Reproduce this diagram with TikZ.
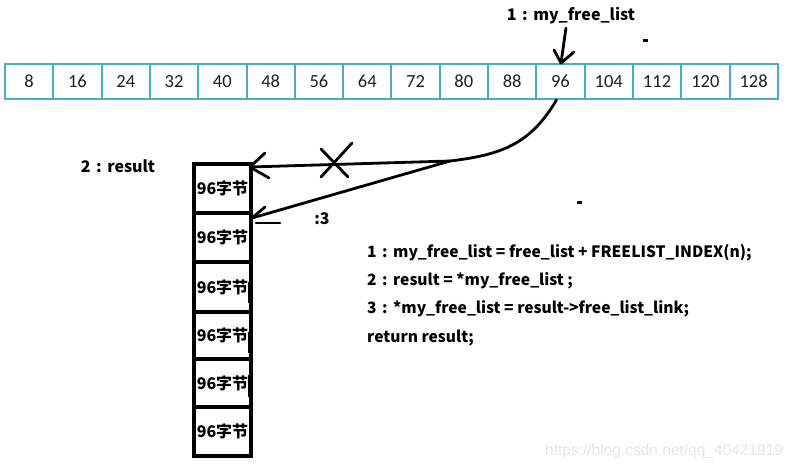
\documentclass[tikz,border=0pt]{standalone}
\usepackage{fontspec}
\setmainfont{Carlito}
\newfontfamily\cjk{Noto Sans CJK SC}
\newfontfamily\wmfont{Liberation Sans}
\definecolor{cellblue}{HTML}{4BACC6}
\newcommand\cln{\hspace{5.5pt}:\hspace{5.5pt}}
\begin{document}
\begin{tikzpicture}[x=1pt,y=-1pt,
  cell/.style={draw=cellblue, line width=2pt, minimum width=48.3pt, minimum height=35pt, inner sep=0pt, font=\fontsize{18.5}{18.5}\selectfont, text=black!88},
  blk/.style={draw, line width=4pt, minimum width=57pt, inner sep=0pt, font=\cjk\bfseries\fontsize{16}{16}\selectfont},
  lbl/.style={font=\cjk\bfseries\fontsize{16}{16}\selectfont, inner sep=0pt},
  code/.style={font=\cjk\bfseries\fontsize{15.6}{15.6}\selectfont, inner sep=0pt, anchor=base west},
  pen/.style={line width=2.8pt, line cap=round},
  cur/.style={line width=1pt},
]
\useasboundingbox (0,0) rectangle (798,476);
% array of size classes
\foreach \v [count=\i] in {8,16,24,32,40,48,56,64,72,80,88,96,104,112,120,128}
  \node[cell] (c\i) at ({5+48.3*(\i-0.5)},81.5) {\v};
% blocks
\foreach \n/\cy/\h in {1/188.5/49, 2/237.5/49, 3/287/50, 4/335.5/47, 5/383/48, 6/431.5/49}
  \node[blk, minimum height=\h pt] (b\n) at (222.5,\cy) {96字节};
% cursor marks inside blocks
\draw[cur] (248,282) -- (248,303);
\draw[cur] (248,332) -- (248,353);
\draw[cur] (248,375) -- (248,397);
% labels
\node[lbl] (l1) at (571,16) {1\cln my\_free\_list};
\node[lbl] (l2) at (118,166) {2\cln result};
\node[lbl] (l3) at (322,219) {:3};
\node[code] (k1) at (367,257) {1\cln my\_free\_list = free\_list + FREELIST\_INDEX(n);};
\node[code] (k2) at (367,285) {2\cln result = *my\_free\_list ;};
\node[code] (k3) at (367,313) {3\cln *my\_free\_list = result->free\_list\_link;};
\node[code] (k4) at (367,342) {return result;};
% watermark
\node[font=\wmfont\fontsize{15.5}{15.5}\selectfont, text=black!10, anchor=west, inner sep=0pt] (wm) at (545,451) {https://blog.csdn.net/qq\_40421919};
% stray marks
\fill (643,39) rectangle (648,42);
\fill (577,201) rectangle (582,204);
% connectors
\coordinate (s0) at (566,28);
\coordinate (t0) at (561,63);
\draw[pen] (s0) -- (t0);
\draw[pen] (t0) -- ++(-7,-13);
\draw[pen] (t0) -- ++(13,-11);
\coordinate (j) at (450,161);
\coordinate (t1) at (250,167);
\coordinate (t2) at (252,218);
\draw[pen] ([xshift=-4pt]c12.south) .. controls (530,145) and (500,155) .. (j) -- (t1);
\draw[pen] (t1) -- ++(15,-14);
\draw[pen] (t1) -- ++(19,11);
\draw[pen] (j) -- (t2);
\draw[pen] (t2) -- ++(13,-11);
\coordinate (d2) at (256,223);
\draw[pen] (d2) -- ++(24,0);
% cross on the broken link
\coordinate (xm) at (335,163);
\draw[pen] (xm) ++(-14,-14) -- ++(27,28);
\draw[pen] (xm) ++(17,-20) -- ++(-31,34);
\end{tikzpicture}
\end{document}
